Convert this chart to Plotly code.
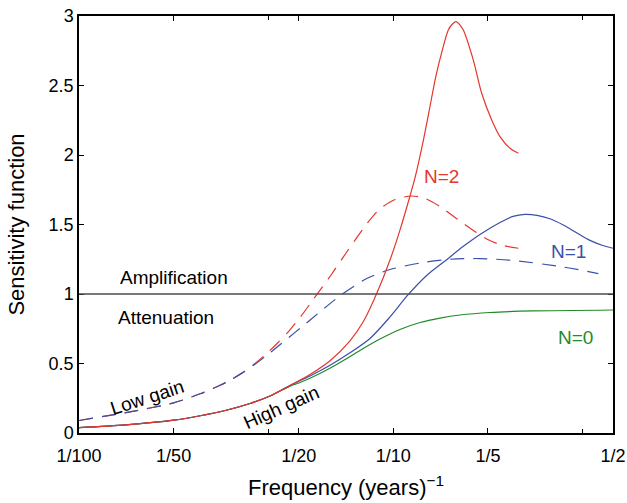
import math
import plotly.graph_objects as go

# Frequencies in cycles per year and the sensitivity read at each of them.
# Shared low-frequency portion of the three high-gain curves.
low_f = [0.010, 0.0141, 0.0200, 0.0243, 0.0292, 0.0350, 0.0405]
low_v = [0.038, 0.058, 0.092, 0.124, 0.162, 0.212, 0.266]

red_hi_f = low_f + [0.0469, 0.0543, 0.0629, 0.0728, 0.0803, 0.0884, 0.0976, 0.1050,
                    0.1130, 0.1172, 0.1241, 0.1302, 0.1364, 0.1432, 0.1496, 0.1537,
                    0.1583, 0.1630, 0.1670, 0.1797, 0.1911, 0.2056, 0.2185, 0.2351,
                    0.2500]
red_hi_v = low_v + [0.342, 0.421, 0.520, 0.663, 0.802, 1.000, 1.245, 1.460,
                    1.705, 1.835, 2.086, 2.324, 2.561, 2.755, 2.899, 2.939,
                    2.959, 2.935, 2.899, 2.683, 2.444, 2.252, 2.132, 2.048,
                    2.012]

blue_hi_f = low_f + [0.0469, 0.0543, 0.0629, 0.0728, 0.0843, 0.0976, 0.1113, 0.1277,
                     0.1479, 0.1667, 0.1887, 0.2185, 0.2403, 0.2624, 0.2866, 0.3151,
                     0.3475, 0.3841, 0.4224, 0.4613, 0.5000]
blue_hi_v = low_v + [0.341, 0.410, 0.487, 0.577, 0.680, 0.835, 0.993, 1.133,
                     1.247, 1.341, 1.428, 1.514, 1.558, 1.573, 1.566, 1.541,
                     1.496, 1.439, 1.386, 1.351, 1.329]

green_hi_f = low_f + [0.0469, 0.0505, 0.0584, 0.0677, 0.0783, 0.0907, 0.1050, 0.1216,
                      0.1408, 0.1630, 0.2031, 0.2782, 0.5000]
green_hi_v = low_v + [0.337, 0.363, 0.428, 0.507, 0.594, 0.676, 0.745, 0.795,
                      0.827, 0.849, 0.867, 0.878, 0.885]

# Shared low-frequency portion of the two low-gain curves.
lowgain_f = [0.0100, 0.0141, 0.0200, 0.0243, 0.0281, 0.0302, 0.0329]
lowgain_v = [0.090, 0.147, 0.217, 0.282, 0.343, 0.379, 0.429]

red_lo_f = lowgain_f + [0.0363, 0.0396, 0.0426, 0.0464, 0.0505, 0.0556, 0.0637, 0.0711,
                        0.0823, 0.0907, 0.1013, 0.1144, 0.1262, 0.1408, 0.1670, 0.1982,
                        0.2234, 0.2500]
red_lo_v = lowgain_v + [0.501, 0.573, 0.642, 0.730, 0.831, 0.960, 1.144, 1.302,
                        1.504, 1.612, 1.680, 1.705, 1.687, 1.629, 1.508, 1.396,
                        1.349, 1.329]

blue_lo_f = lowgain_f + [0.0363, 0.0396, 0.0427, 0.0464, 0.0505, 0.0577, 0.0685, 0.0823,
                         0.0976, 0.1246, 0.1515, 0.1887, 0.2409, 0.3475, 0.4490]
blue_lo_v = lowgain_v + [0.494, 0.559, 0.619, 0.685, 0.753, 0.861, 0.996, 1.111,
                         1.176, 1.227, 1.250, 1.255, 1.241, 1.194, 1.147]

x_tickvals = [0.01, 0.02, 0.05, 0.1, 0.2, 0.5]
x_ticktext = ["1/100", "1/50", "1/20", "1/10", "1/5", "1/2"]
x_minor_tickvals = [0.04, 0.4]
y_tickvals = [0, 0.5, 1, 1.5, 2, 2.5, 3]
y_ticktext = ["0", "0.5", "1", "1.5", "2", "2.5", "3"]

RED = "#e5362c"
BLUE = "#3a4fa8"
GREEN = "#1f8a2a"
FONT = "Liberation Sans, Arial, Helvetica, sans-serif"
DASH = "14px,9px"

fig = go.Figure()

series = [
    (red_lo_f, red_lo_v, RED, DASH),
    (blue_lo_f, blue_lo_v, BLUE, DASH),
    (green_hi_f, green_hi_v, GREEN, "solid"),
    (blue_hi_f, blue_hi_v, BLUE, "solid"),
    (red_hi_f, red_hi_v, RED, "solid"),
]
for fx, fy, col, dash in series:
    fig.add_trace(go.Scatter(
        x=fx, y=fy, mode="lines",
        line=dict(color=col, width=1.2, dash=dash, shape="spline", smoothing=0.8),
        showlegend=False, hoverinfo="skip",
    ))

# Unity line separating amplification from attenuation
fig.add_hline(y=1, line=dict(color="#4d4d4d", width=1.6))

axis_common = dict(
    showline=True, linecolor="black", linewidth=1.5, mirror="ticks",
    ticks="inside", ticklen=5, tickwidth=1.2, tickcolor="black",
    showgrid=False, zeroline=False, automargin=False,
    tickfont=dict(family=FONT, size=18, color="black"),
)

fig.update_xaxes(
    type="log", range=[-2, math.log10(0.5)],
    tickvals=x_tickvals, ticktext=x_ticktext, ticklabelstandoff=6,
    minor=dict(tickvals=x_minor_tickvals, ticks="inside", ticklen=4,
               tickwidth=1.0, tickcolor="black", showgrid=False),
    title=dict(text="Frequency (years)<sup>\u22121</sup>",
               font=dict(family=FONT, size=22, color="black"), standoff=14),
    **axis_common,
)
fig.update_yaxes(
    range=[0, 3], tickvals=y_tickvals, ticktext=y_ticktext,
    title=dict(text="Sensitivity function",
               font=dict(family=FONT, size=22, color="black"), standoff=18),
    **axis_common,
)

labels = [
    ("Amplification", 0.177, 0.374, "black", 0),
    ("Attenuation", 0.163, 0.276, "black", 0),
    ("Low gain", 0.127, 0.086, "black", -18),
    ("High gain", 0.378, 0.062, "black", -24),
    ("N=2", 0.679, 0.616, RED, 0),
    ("N=1", 0.916, 0.435, BLUE, 0),
    ("N=0", 0.930, 0.229, GREEN, 0),
]
for text, px, py, col, ang in labels:
    fig.add_annotation(
        text=text, x=px, y=py, xref="paper", yref="paper",
        xanchor="center", yanchor="middle", showarrow=False,
        textangle=ang, font=dict(family=FONT, size=19, color=col),
    )

fig.update_layout(
    width=627, height=503,
    margin=dict(l=79, r=14, t=16, b=70),
    plot_bgcolor="white", paper_bgcolor="white",
)

fig.write_html("out.html")
